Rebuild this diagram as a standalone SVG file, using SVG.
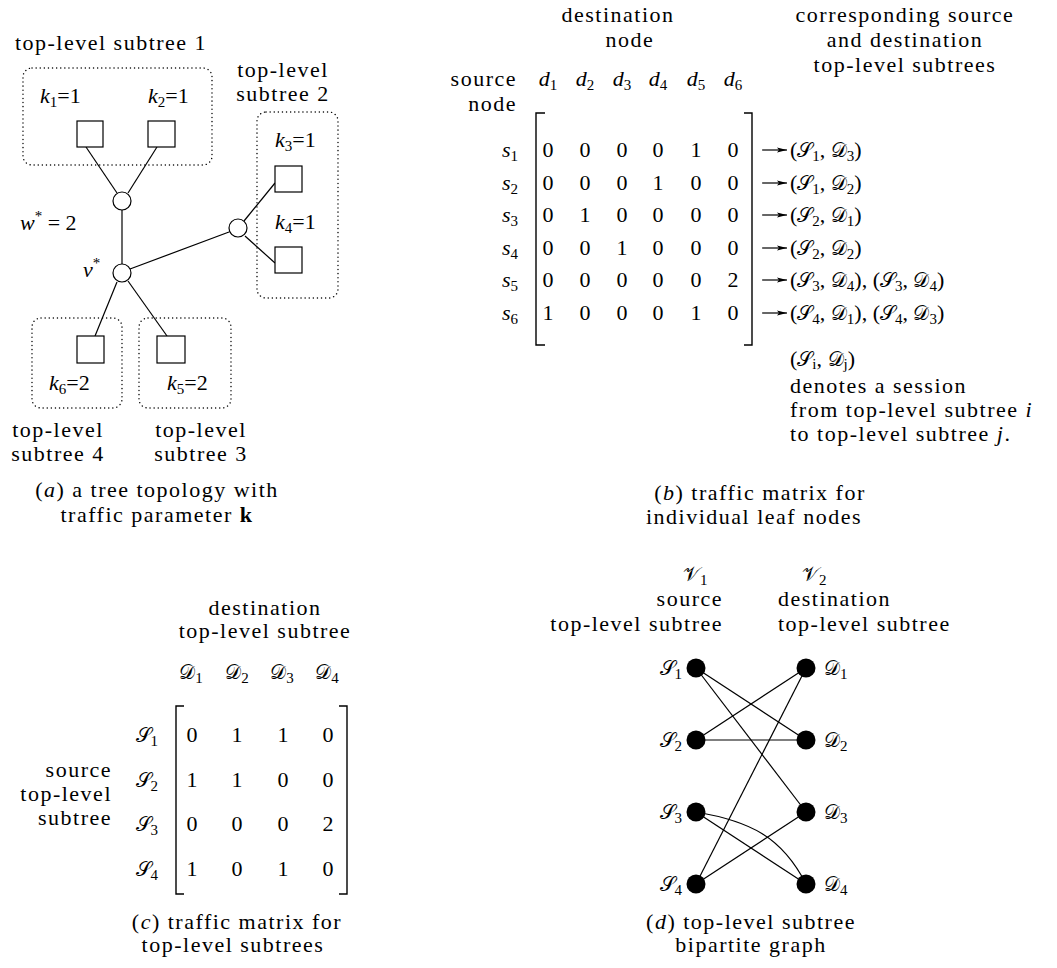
<svg xmlns="http://www.w3.org/2000/svg" width="1057" height="968" viewBox="0 0 1057 968" font-family="Liberation Serif, Times New Roman, serif">
<style>
text { font-family: "Liberation Serif", "Times New Roman", serif; font-size: 22px; fill: #000; }
.t { letter-spacing: 1.5px; }
.m { font-style: italic; }
.r { font-style: normal; }
.sub { font-size: 15px; font-style: normal; }
.cal { font-family: "DejaVu Serif", "DejaVu Sans", "Noto Sans", serif; font-style: normal; font-size: 20px; }
.mid { text-anchor: middle; }
.end { text-anchor: end; }
.dot { fill: none; stroke: #000; stroke-width: 1.4; stroke-dasharray: 0.1 4; stroke-linecap: round; }
.leaf { fill: #fff; stroke: #000; stroke-width: 1.2; }
.inner { fill: #fff; stroke: #000; stroke-width: 1.2; }
.edge { fill: none; stroke: #000; stroke-width: 1.2; }
.brk { fill: none; stroke: #000; stroke-width: 1.4; }
.bn { fill: #000; stroke: none; }
</style>
<defs>
<marker id="arr" viewBox="0 0 10 6" refX="10" refY="3" markerWidth="10" markerHeight="6" markerUnits="userSpaceOnUse" orient="auto">
<path d="M0,0.5 L10,3 L0,5.5 L2,3 z" fill="#000"/>
</marker>
</defs>

<!-- ===== Panel (a) ===== -->
<g id="a-connectors">
<line class="edge" x1="86" y1="147" x2="117" y2="193"/>
<line class="edge" x1="157" y1="147" x2="128" y2="193"/>
<line class="edge" x1="122" y1="210" x2="122" y2="264"/>
<line class="edge" x1="130" y1="269" x2="229" y2="232"/>
<line class="edge" x1="244" y1="221" x2="275" y2="183"/>
<line class="edge" x1="245" y1="236" x2="275" y2="263"/>
<line class="edge" x1="117" y1="282" x2="95" y2="336"/>
<line class="edge" x1="128" y1="281" x2="167" y2="336"/>
</g>
<g id="a-subtree1">
<rect class="dot" x="23" y="68" width="189" height="97" rx="9"/>
<text class="t mid" x="111" y="50">top-level subtree 1</text>
</g>
<g id="a-leaf1"><rect class="leaf" x="77" y="121" width="26" height="26"/>
<text class="m" x="40" y="103">k<tspan class="sub" dy="4">1</tspan><tspan class="r" dy="-4">=1</tspan></text></g>
<g id="a-leaf2"><rect class="leaf" x="148" y="121" width="27" height="26"/>
<text class="m" x="148" y="103">k<tspan class="sub" dy="4">2</tspan><tspan class="r" dy="-4">=1</tspan></text></g>
<g id="a-w"><circle class="inner" cx="122" cy="201" r="9"/>
<text class="m" x="20" y="230">w<tspan class="sub" dy="-9">*</tspan><tspan class="r" dy="9"> = 2</tspan></text></g>
<g id="a-v"><circle class="inner" cx="122" cy="273" r="9"/>
<text class="m" x="83" y="277">v<tspan class="sub" dy="-9">*</tspan></text></g>
<g id="a-subtree2">
<rect class="dot" x="257" y="112" width="81" height="186" rx="9"/>
<text class="t mid" x="283" y="77">top-level</text>
<text class="t mid" x="283" y="101">subtree 2</text>
</g>
<g id="a-u"><circle class="inner" cx="238" cy="228" r="9"/></g>
<g id="a-leaf3"><rect class="leaf" x="275" y="166" width="27" height="26"/>
<text class="m" x="275" y="147">k<tspan class="sub" dy="4">3</tspan><tspan class="r" dy="-4">=1</tspan></text></g>
<g id="a-leaf4"><rect class="leaf" x="275" y="247" width="27" height="26"/>
<text class="m" x="275" y="229">k<tspan class="sub" dy="4">4</tspan><tspan class="r" dy="-4">=1</tspan></text></g>
<g id="a-subtree4">
<rect class="dot" x="32" y="318" width="90" height="90" rx="9"/>
<text class="t mid" x="58" y="437">top-level</text>
<text class="t mid" x="58" y="461">subtree 4</text>
</g>
<g id="a-leaf6"><rect class="leaf" x="77" y="336" width="27" height="27"/>
<text class="m" x="49" y="390">k<tspan class="sub" dy="4">6</tspan><tspan class="r" dy="-4">=2</tspan></text></g>
<g id="a-subtree3">
<rect class="dot" x="139" y="318" width="92" height="90" rx="9"/>
<text class="t mid" x="201" y="437">top-level</text>
<text class="t mid" x="201" y="461">subtree 3</text>
</g>
<g id="a-leaf5"><rect class="leaf" x="157" y="336" width="28" height="27"/>
<text class="m" x="167" y="390">k<tspan class="sub" dy="4">5</tspan><tspan class="r" dy="-4">=2</tspan></text></g>
<g id="a-caption">
<text class="t mid" x="157" y="497">(<tspan class="m">a</tspan>) a tree topology with</text>
<text class="t mid" x="157" y="522">traffic parameter <tspan font-weight="bold">k</tspan></text>
</g>

<!-- ===== Panel (b) ===== -->
<g id="b-headers">
<text class="t mid" x="618" y="22">destination</text>
<text class="t mid" x="630" y="47">node</text>
<text class="t end" x="517" y="86">source</text>
<text class="t end" x="517" y="111">node</text>
<text class="m mid" x="548" y="86">d<tspan class="sub" dy="4">1</tspan></text>
<text class="m mid" x="585" y="86">d<tspan class="sub" dy="4">2</tspan></text>
<text class="m mid" x="622" y="86">d<tspan class="sub" dy="4">3</tspan></text>
<text class="m mid" x="658" y="86">d<tspan class="sub" dy="4">4</tspan></text>
<text class="m mid" x="696" y="86">d<tspan class="sub" dy="4">5</tspan></text>
<text class="m mid" x="733" y="86">d<tspan class="sub" dy="4">6</tspan></text>
<text class="t mid" x="905" y="22">corresponding source</text>
<text class="t mid" x="905" y="47">and destination</text>
<text class="t mid" x="905" y="72">top-level subtrees</text>
</g>
<g id="b-matrix">
<path class="brk" d="M545,113 H536 V345 H545"/>
<path class="brk" d="M744,113 H752 V345 H744"/>
<text class="m end" x="518" y="157">s<tspan class="sub" dy="4">1</tspan></text>
<text class="m end" x="518" y="190">s<tspan class="sub" dy="4">2</tspan></text>
<text class="m end" x="518" y="222">s<tspan class="sub" dy="4">3</tspan></text>
<text class="m end" x="518" y="255">s<tspan class="sub" dy="4">4</tspan></text>
<text class="m end" x="518" y="287">s<tspan class="sub" dy="4">5</tspan></text>
<text class="m end" x="518" y="320">s<tspan class="sub" dy="4">6</tspan></text>
<text class="mid" y="157"><tspan x="548">0</tspan><tspan x="585">0</tspan><tspan x="622">0</tspan><tspan x="658">0</tspan><tspan x="696">1</tspan><tspan x="733">0</tspan></text>
<text class="mid" y="190"><tspan x="548">0</tspan><tspan x="585">0</tspan><tspan x="622">0</tspan><tspan x="658">1</tspan><tspan x="696">0</tspan><tspan x="733">0</tspan></text>
<text class="mid" y="222"><tspan x="548">0</tspan><tspan x="585">1</tspan><tspan x="622">0</tspan><tspan x="658">0</tspan><tspan x="696">0</tspan><tspan x="733">0</tspan></text>
<text class="mid" y="255"><tspan x="548">0</tspan><tspan x="585">0</tspan><tspan x="622">1</tspan><tspan x="658">0</tspan><tspan x="696">0</tspan><tspan x="733">0</tspan></text>
<text class="mid" y="287"><tspan x="548">0</tspan><tspan x="585">0</tspan><tspan x="622">0</tspan><tspan x="658">0</tspan><tspan x="696">0</tspan><tspan x="733">2</tspan></text>
<text class="mid" y="320"><tspan x="548">1</tspan><tspan x="585">0</tspan><tspan x="622">0</tspan><tspan x="658">0</tspan><tspan x="696">1</tspan><tspan x="733">0</tspan></text>
</g>
<g id="b-arrows">
<line class="edge" x1="762" y1="150" x2="787" y2="150" marker-end="url(#arr)"/>
<line class="edge" x1="762" y1="183" x2="787" y2="183" marker-end="url(#arr)"/>
<line class="edge" x1="762" y1="215" x2="787" y2="215" marker-end="url(#arr)"/>
<line class="edge" x1="762" y1="248" x2="787" y2="248" marker-end="url(#arr)"/>
<line class="edge" x1="762" y1="280" x2="787" y2="280" marker-end="url(#arr)"/>
<line class="edge" x1="762" y1="313" x2="787" y2="313" marker-end="url(#arr)"/>
</g>
<g id="b-sessions">
<text x="790" y="157">(<tspan class="cal">𝒮</tspan><tspan class="sub" dy="4">1</tspan><tspan dy="-4">, </tspan><tspan class="cal">𝒟</tspan><tspan class="sub" dy="4">3</tspan><tspan dy="-4">)</tspan></text>
<text x="790" y="190">(<tspan class="cal">𝒮</tspan><tspan class="sub" dy="4">1</tspan><tspan dy="-4">, </tspan><tspan class="cal">𝒟</tspan><tspan class="sub" dy="4">2</tspan><tspan dy="-4">)</tspan></text>
<text x="790" y="222">(<tspan class="cal">𝒮</tspan><tspan class="sub" dy="4">2</tspan><tspan dy="-4">, </tspan><tspan class="cal">𝒟</tspan><tspan class="sub" dy="4">1</tspan><tspan dy="-4">)</tspan></text>
<text x="790" y="255">(<tspan class="cal">𝒮</tspan><tspan class="sub" dy="4">2</tspan><tspan dy="-4">, </tspan><tspan class="cal">𝒟</tspan><tspan class="sub" dy="4">2</tspan><tspan dy="-4">)</tspan></text>
<text x="790" y="287">(<tspan class="cal">𝒮</tspan><tspan class="sub" dy="4">3</tspan><tspan dy="-4">, </tspan><tspan class="cal">𝒟</tspan><tspan class="sub" dy="4">4</tspan><tspan dy="-4">), (</tspan><tspan class="cal">𝒮</tspan><tspan class="sub" dy="4">3</tspan><tspan dy="-4">, </tspan><tspan class="cal">𝒟</tspan><tspan class="sub" dy="4">4</tspan><tspan dy="-4">)</tspan></text>
<text x="790" y="320">(<tspan class="cal">𝒮</tspan><tspan class="sub" dy="4">4</tspan><tspan dy="-4">, </tspan><tspan class="cal">𝒟</tspan><tspan class="sub" dy="4">1</tspan><tspan dy="-4">), (</tspan><tspan class="cal">𝒮</tspan><tspan class="sub" dy="4">4</tspan><tspan dy="-4">, </tspan><tspan class="cal">𝒟</tspan><tspan class="sub" dy="4">3</tspan><tspan dy="-4">)</tspan></text>
</g>
<g id="b-note">
<text x="790" y="366">(<tspan class="cal">𝒮</tspan><tspan class="sub m" dy="3">i</tspan><tspan dy="-3">, </tspan><tspan class="cal">𝒟</tspan><tspan class="sub m" dy="3">j</tspan><tspan dy="-3">)</tspan></text>
<text class="t" x="790" y="393">denotes a session</text>
<text class="t" x="790" y="417">from top-level subtree <tspan class="m">i</tspan></text>
<text class="t" x="790" y="441">to top-level subtree <tspan class="m">j</tspan>.</text>
</g>
<g id="b-caption">
<text class="t mid" x="760" y="500">(<tspan class="m">b</tspan>) traffic matrix for</text>
<text class="t mid" x="754" y="524">individual leaf nodes</text>
</g>

<!-- ===== Panel (c) ===== -->
<g id="c-headers">
<text class="t mid" x="265" y="615">destination</text>
<text class="t mid" x="265" y="638">top-level subtree</text>
<text class="mid" x="191" y="679"><tspan class="cal">𝒟</tspan><tspan class="sub" dy="4">1</tspan></text>
<text class="mid" x="237" y="679"><tspan class="cal">𝒟</tspan><tspan class="sub" dy="4">2</tspan></text>
<text class="mid" x="282" y="679"><tspan class="cal">𝒟</tspan><tspan class="sub" dy="4">3</tspan></text>
<text class="mid" x="327" y="679"><tspan class="cal">𝒟</tspan><tspan class="sub" dy="4">4</tspan></text>
<text class="t end" x="112" y="777">source</text>
<text class="t end" x="112" y="801">top-level</text>
<text class="t end" x="112" y="825">subtree</text>
</g>
<g id="c-matrix">
<path class="brk" d="M184,706 H176 V894 H184"/>
<path class="brk" d="M339,706 H347 V894 H339"/>
<text class="end" x="158" y="742"><tspan class="cal">𝒮</tspan><tspan class="sub" dy="4">1</tspan></text>
<text class="end" x="158" y="787"><tspan class="cal">𝒮</tspan><tspan class="sub" dy="4">2</tspan></text>
<text class="end" x="158" y="831"><tspan class="cal">𝒮</tspan><tspan class="sub" dy="4">3</tspan></text>
<text class="end" x="158" y="876"><tspan class="cal">𝒮</tspan><tspan class="sub" dy="4">4</tspan></text>
<text class="mid" y="742"><tspan x="192">0</tspan><tspan x="237">1</tspan><tspan x="283">1</tspan><tspan x="328">0</tspan></text>
<text class="mid" y="787"><tspan x="192">1</tspan><tspan x="237">1</tspan><tspan x="283">0</tspan><tspan x="328">0</tspan></text>
<text class="mid" y="831"><tspan x="192">0</tspan><tspan x="237">0</tspan><tspan x="283">0</tspan><tspan x="328">2</tspan></text>
<text class="mid" y="876"><tspan x="192">1</tspan><tspan x="237">0</tspan><tspan x="283">1</tspan><tspan x="328">0</tspan></text>
</g>
<g id="c-caption">
<text class="t mid" x="237" y="929">(<tspan class="m">c</tspan>) traffic matrix for</text>
<text class="t mid" x="233" y="952">top-level subtrees</text>
</g>

<!-- ===== Panel (d) ===== -->
<g id="d-headers">
<text x="683" y="581"><tspan class="cal">𝒱</tspan><tspan class="sub" dy="4">1</tspan></text>
<text x="802" y="581"><tspan class="cal">𝒱</tspan><tspan class="sub" dy="4">2</tspan></text>
<text class="t end" x="723" y="606">source</text>
<text class="t end" x="723" y="631">top-level subtree</text>
<text class="t" x="778" y="606">destination</text>
<text class="t" x="778" y="631">top-level subtree</text>
</g>
<g id="d-edges">
<line class="edge" x1="696" y1="668" x2="806" y2="740"/>
<line class="edge" x1="696" y1="668" x2="806" y2="812"/>
<line class="edge" x1="696" y1="740" x2="806" y2="668"/>
<line class="edge" x1="696" y1="740" x2="806" y2="740"/>
<line class="edge" x1="696" y1="812" x2="806" y2="884"/>
<path class="edge" d="M696,812 C750,821 782,837 806,884"/>
<line class="edge" x1="696" y1="884" x2="806" y2="668"/>
<line class="edge" x1="696" y1="884" x2="806" y2="812"/>
</g>
<g id="d-S1"><circle class="bn" cx="696" cy="668" r="9.5"/><text class="end" x="682" y="675"><tspan class="cal">𝒮</tspan><tspan class="sub" dy="4">1</tspan></text></g>
<g id="d-S2"><circle class="bn" cx="696" cy="740" r="9.5"/><text class="end" x="682" y="747"><tspan class="cal">𝒮</tspan><tspan class="sub" dy="4">2</tspan></text></g>
<g id="d-S3"><circle class="bn" cx="696" cy="812" r="9.5"/><text class="end" x="682" y="819"><tspan class="cal">𝒮</tspan><tspan class="sub" dy="4">3</tspan></text></g>
<g id="d-S4"><circle class="bn" cx="696" cy="884" r="9.5"/><text class="end" x="682" y="891"><tspan class="cal">𝒮</tspan><tspan class="sub" dy="4">4</tspan></text></g>
<g id="d-D1"><circle class="bn" cx="806" cy="668" r="9.5"/><text x="824" y="675"><tspan class="cal">𝒟</tspan><tspan class="sub" dy="4">1</tspan></text></g>
<g id="d-D2"><circle class="bn" cx="806" cy="740" r="9.5"/><text x="824" y="747"><tspan class="cal">𝒟</tspan><tspan class="sub" dy="4">2</tspan></text></g>
<g id="d-D3"><circle class="bn" cx="806" cy="812" r="9.5"/><text x="824" y="819"><tspan class="cal">𝒟</tspan><tspan class="sub" dy="4">3</tspan></text></g>
<g id="d-D4"><circle class="bn" cx="806" cy="884" r="9.5"/><text x="824" y="891"><tspan class="cal">𝒟</tspan><tspan class="sub" dy="4">4</tspan></text></g>
<g id="d-caption">
<text class="t mid" x="751" y="929">(<tspan class="m">d</tspan>) top-level subtree</text>
<text class="t mid" x="751" y="952">bipartite graph</text>
</g>
</svg>
